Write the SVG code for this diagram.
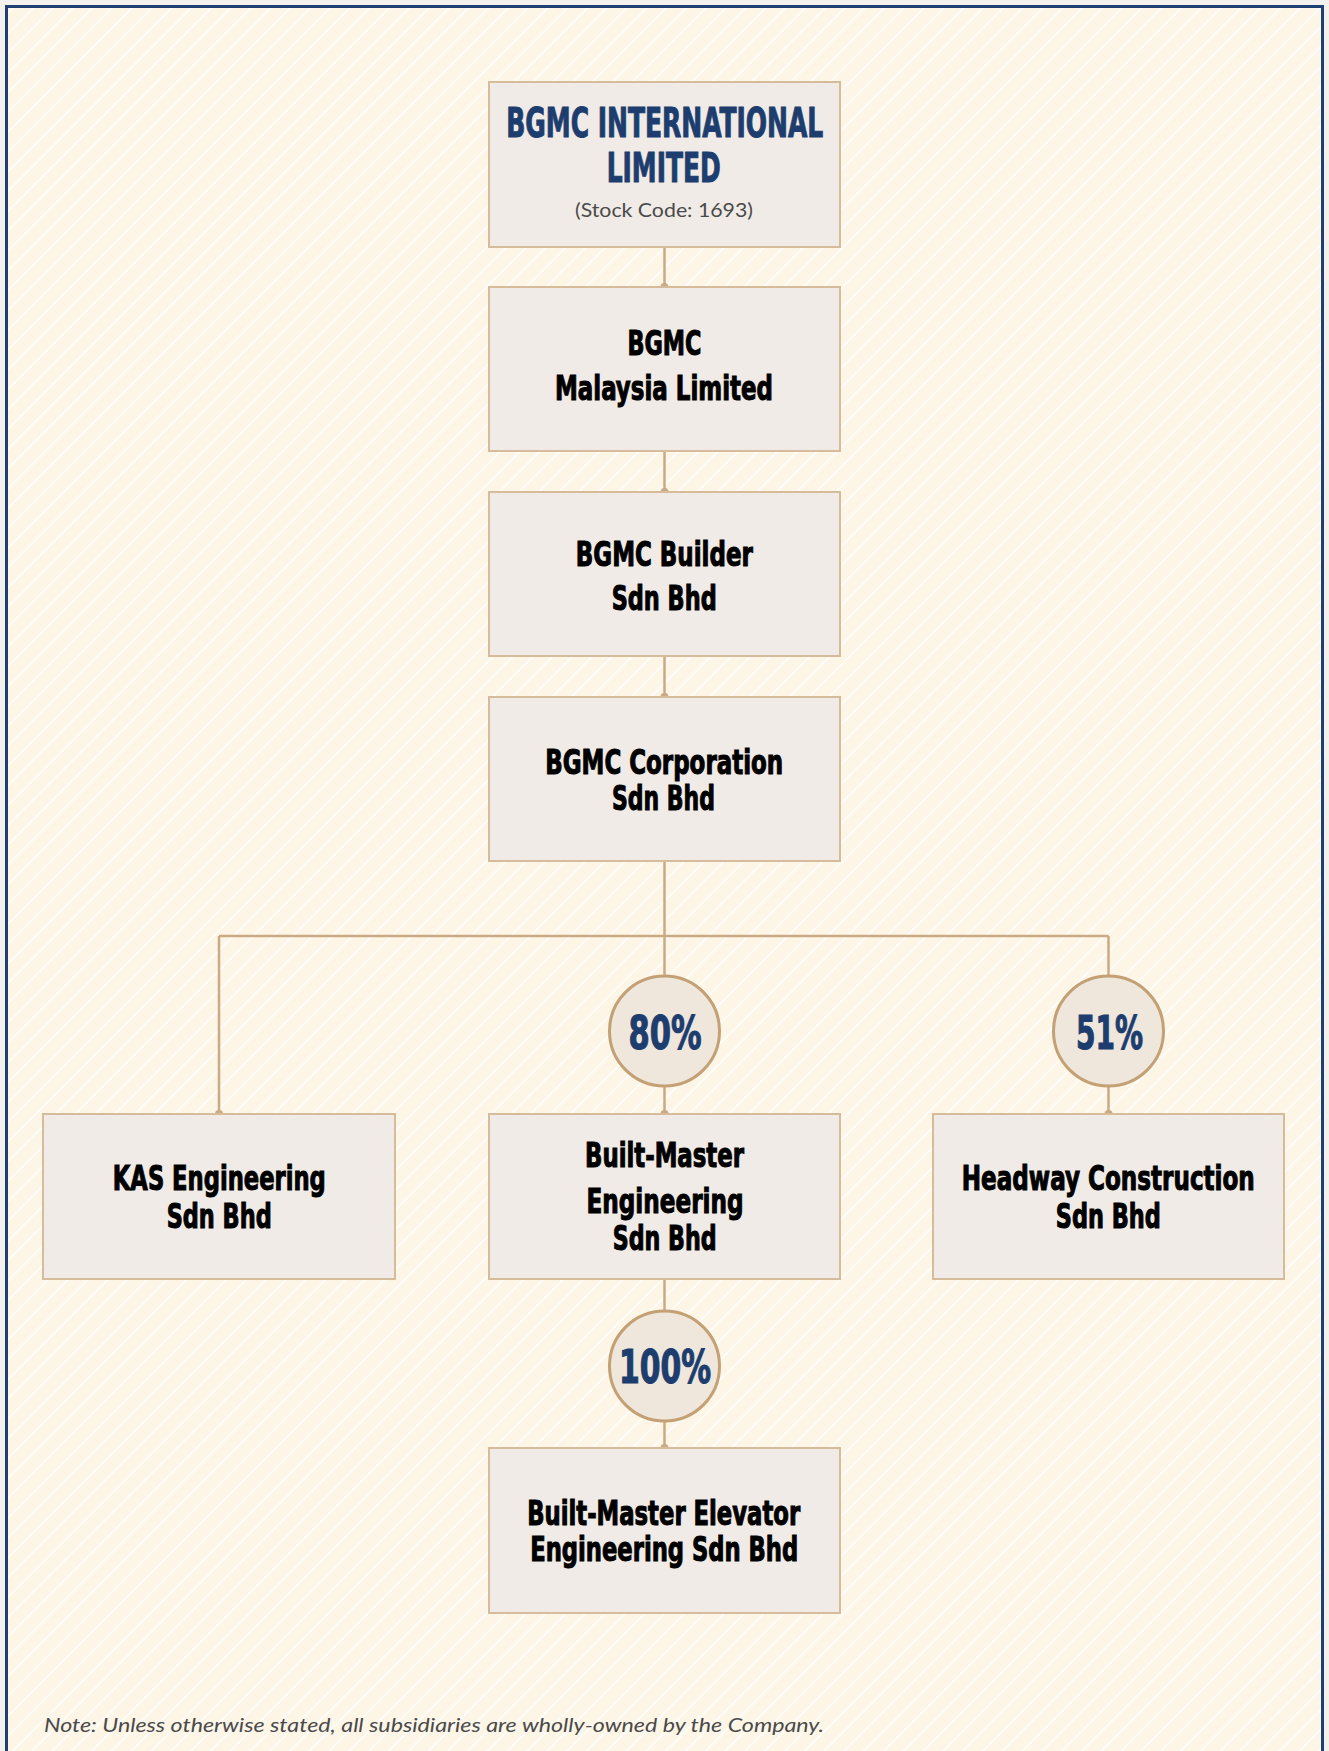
<svg xmlns="http://www.w3.org/2000/svg" width="1329" height="1751" viewBox="0 0 1329 1751">
  <defs>
    <pattern id="stripes" width="14" height="14" patternUnits="userSpaceOnUse" patternTransform="rotate(45)">
      <rect width="14" height="14" fill="#fdf5e6"/>
      <line x1="1" y1="0" x2="1" y2="14" stroke="#ffffff" stroke-width="1.6" stroke-opacity="0.85"/>
    </pattern>
    <style>
      .box { fill: #f0ebe6; stroke: #d6bc9a; stroke-width: 2; }
      .circ { fill: #efe6dc; stroke: #c4a075; stroke-width: 3; }
      .conn { stroke: #c9aa85; stroke-width: 2.5; fill: none; }
      .dot { fill: #c9aa85; }
      .bold { font-family: 'Liberation Sans Narrow', 'DejaVu Sans Condensed', 'Liberation Sans', sans-serif; font-weight: 700; font-stretch: condensed; text-anchor: middle; }
      .name { font-size: 33px; fill: #000000; stroke: #000000; stroke-width: 1; }
      .title { font-size: 41px; fill: #1c3d6e; stroke: #1c3d6e; stroke-width: 1; }
      .pct { font-size: 46px; fill: #1c3d6e; stroke: #1c3d6e; stroke-width: 1.1; }
      .sub { font-family: Lato, 'Open Sans', 'Liberation Sans', sans-serif; font-size: 20px; fill: #4a4a4a; text-anchor: middle; }
      .note { font-family: Lato, 'Open Sans', 'Liberation Sans', sans-serif; font-size: 19px; font-style: italic; fill: #4a4a4a; }
    </style>
  </defs>

  <rect x="0" y="0" width="1329" height="1751" fill="#f3f1ee"/>
  <rect x="6.5" y="6.5" width="1316" height="1770" fill="url(#stripes)" stroke="#1f3f73" stroke-width="3"/>

  <g id="connectors">
    <line class="conn" x1="664.5" y1="247" x2="664.5" y2="287"/>
    <line class="conn" x1="664.5" y1="451" x2="664.5" y2="492"/>
    <line class="conn" x1="664.5" y1="656" x2="664.5" y2="697"/>
    <line class="conn" x1="664.5" y1="861" x2="664.5" y2="976"/>
    <line class="conn" x1="219" y1="936" x2="1108.5" y2="936"/>
    <line class="conn" x1="219" y1="936" x2="219" y2="1114"/>
    <line class="conn" x1="1108.5" y1="936" x2="1108.5" y2="976"/>
    <line class="conn" x1="664.5" y1="1086" x2="664.5" y2="1114"/>
    <line class="conn" x1="1108.5" y1="1086" x2="1108.5" y2="1114"/>
    <line class="conn" x1="664.5" y1="1279" x2="664.5" y2="1311"/>
    <line class="conn" x1="664.5" y1="1421" x2="664.5" y2="1448"/>
    <circle class="dot" cx="664.5" cy="287" r="4"/>
    <circle class="dot" cx="664.5" cy="492" r="4"/>
    <circle class="dot" cx="664.5" cy="697" r="4"/>
    <circle class="dot" cx="219" cy="1114" r="4"/>
    <circle class="dot" cx="664.5" cy="1114" r="4"/>
    <circle class="dot" cx="1108.5" cy="1114" r="4"/>
    <circle class="dot" cx="664.5" cy="1448" r="4"/>
  </g>

  <g id="node-bgmc-international">
    <rect class="box" x="489" y="82" width="351" height="165"/>
    <text class="bold title" x="664.7" y="136.7" textLength="317" lengthAdjust="spacingAndGlyphs">BGMC INTERNATIONAL</text>
    <text class="bold title" x="663.7" y="181.7" textLength="114" lengthAdjust="spacingAndGlyphs">LIMITED</text>
    <text class="sub" x="664" y="217" textLength="178" lengthAdjust="spacingAndGlyphs">(Stock Code: 1693)</text>
  </g>

  <g id="node-bgmc-malaysia">
    <rect class="box" x="489" y="287" width="351" height="164"/>
    <text class="bold name" x="664.5" y="355" textLength="74" lengthAdjust="spacingAndGlyphs">BGMC</text>
    <text class="bold name" x="664" y="400" textLength="218" lengthAdjust="spacingAndGlyphs">Malaysia Limited</text>
  </g>

  <g id="node-bgmc-builder">
    <rect class="box" x="489" y="492" width="351" height="164"/>
    <text class="bold name" x="664.3" y="565.7" textLength="177" lengthAdjust="spacingAndGlyphs">BGMC Builder</text>
    <text class="bold name" x="664.2" y="610" textLength="105" lengthAdjust="spacingAndGlyphs">Sdn Bhd</text>
  </g>

  <g id="node-bgmc-corporation">
    <rect class="box" x="489" y="697" width="351" height="164"/>
    <text class="bold name" x="664.2" y="774" textLength="238" lengthAdjust="spacingAndGlyphs">BGMC Corporation</text>
    <text class="bold name" x="663.4" y="810" textLength="103" lengthAdjust="spacingAndGlyphs">Sdn Bhd</text>
  </g>

  <g id="pct-80">
    <circle class="circ" cx="664.5" cy="1031" r="55"/>
    <text class="bold pct" x="665" y="1049.3" textLength="73" lengthAdjust="spacingAndGlyphs">80%</text>
  </g>

  <g id="pct-51">
    <circle class="circ" cx="1108.5" cy="1031" r="55"/>
    <text class="bold pct" x="1109.5" y="1049.3" textLength="67" lengthAdjust="spacingAndGlyphs">51%</text>
  </g>

  <g id="node-kas">
    <rect class="box" x="43" y="1114" width="352" height="165"/>
    <text class="bold name" x="219.3" y="1190" textLength="213" lengthAdjust="spacingAndGlyphs">KAS Engineering</text>
    <text class="bold name" x="219.2" y="1228" textLength="105" lengthAdjust="spacingAndGlyphs">Sdn Bhd</text>
  </g>

  <g id="node-built-master">
    <rect class="box" x="489" y="1114" width="351" height="165"/>
    <text class="bold name" x="664.5" y="1166.7" textLength="159" lengthAdjust="spacingAndGlyphs">Built-Master</text>
    <text class="bold name" x="665" y="1213.3" textLength="157" lengthAdjust="spacingAndGlyphs">Engineering</text>
    <text class="bold name" x="664.7" y="1250" textLength="104" lengthAdjust="spacingAndGlyphs">Sdn Bhd</text>
  </g>

  <g id="node-headway">
    <rect class="box" x="933" y="1114" width="351" height="165"/>
    <text class="bold name" x="1108.3" y="1190" textLength="293" lengthAdjust="spacingAndGlyphs">Headway Construction</text>
    <text class="bold name" x="1108.3" y="1227.7" textLength="105" lengthAdjust="spacingAndGlyphs">Sdn Bhd</text>
  </g>

  <g id="pct-100">
    <circle class="circ" cx="664.5" cy="1366" r="55"/>
    <text class="bold pct" x="665" y="1382.7" textLength="92" lengthAdjust="spacingAndGlyphs">100%</text>
  </g>

  <g id="node-elevator">
    <rect class="box" x="489" y="1448" width="351" height="165"/>
    <text class="bold name" x="663.7" y="1525" textLength="273" lengthAdjust="spacingAndGlyphs">Built-Master Elevator</text>
    <text class="bold name" x="664.2" y="1561" textLength="268" lengthAdjust="spacingAndGlyphs">Engineering Sdn Bhd</text>
  </g>

  <text class="note" x="44" y="1732" textLength="780" lengthAdjust="spacingAndGlyphs">Note: Unless otherwise stated, all subsidiaries are wholly-owned by the Company.</text>
</svg>
